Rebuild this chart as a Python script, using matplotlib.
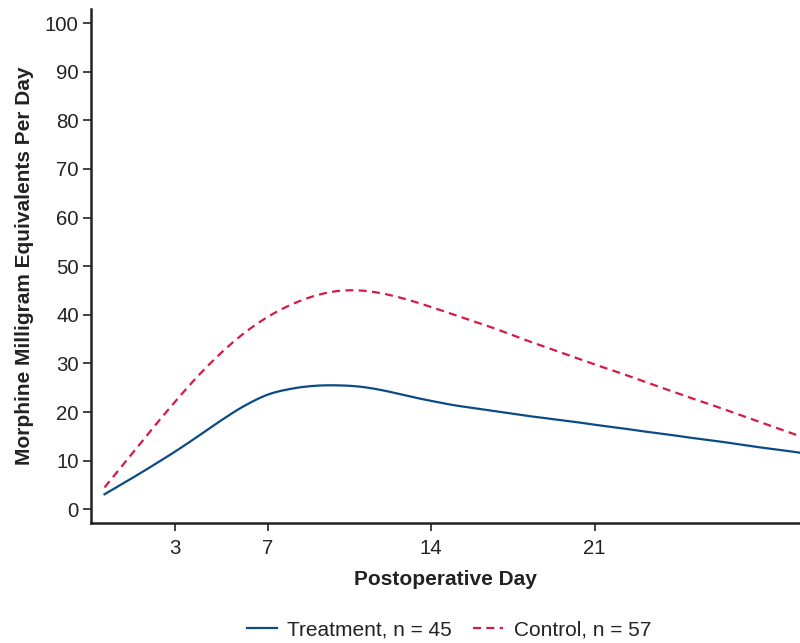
import matplotlib
matplotlib.use("Agg")
import matplotlib.pyplot as plt
import numpy as np

plt.rcParams['font.family'] = ['Liberation Sans', 'DejaVu Sans']

days = list(range(0, 31))
treatment = [3.1, 5.9, 8.8, 11.8, 15.0, 18.3, 21.3, 23.6, 24.8, 25.4,
             25.5, 25.2, 24.4, 23.3, 22.3, 21.4, 20.7, 20.0, 19.3, 18.7,
             18.1, 17.4, 16.8, 16.1, 15.5, 14.8, 14.2, 13.5, 12.8, 12.2, 11.5]
control = [4.5, 10.4, 16.3, 22.0, 27.4, 32.2, 36.3, 39.6, 42.1, 43.9,
           44.9, 45.0, 44.3, 43.1, 41.6, 40.0, 38.4, 36.7, 34.9, 33.2,
           31.5, 29.8, 28.2, 26.5, 24.8, 23.1, 21.5, 19.8, 18.1, 16.4, 14.7]
xticks = [3, 7, 14, 21]
yticks = [0, 10, 20, 30, 40, 50, 60, 70, 80, 90, 100]
labels = ["Treatment, n = 45", "Control, n = 57"]


def smooth(x, y, n=12):
    """Catmull-Rom rendering through the given points (display smoothing only)."""
    x = np.asarray(x, float)
    y = np.asarray(y, float)
    px = np.concatenate([[2 * x[0] - x[1]], x, [2 * x[-1] - x[-2]]])
    py = np.concatenate([[2 * y[0] - y[1]], y, [2 * y[-1] - y[-2]]])
    xs, ys = [], []
    t = np.linspace(0, 1, n, endpoint=False)
    for i in range(1, len(px) - 2):
        for arr, out in ((px, xs), (py, ys)):
            p0, p1, p2, p3 = arr[i - 1], arr[i], arr[i + 1], arr[i + 2]
            out.extend(0.5 * ((2 * p1) + (-p0 + p2) * t
                              + (2 * p0 - 5 * p1 + 4 * p2 - p3) * t ** 2
                              + (-p0 + 3 * p1 - 3 * p2 + p3) * t ** 3))
    xs.append(x[-1])
    ys.append(y[-1])
    return np.array(xs), np.array(ys)


fig = plt.figure(figsize=(8, 6.43), dpi=100)
ax = fig.add_axes([0.114, 0.187, 0.886, 0.799])

tx, ty = smooth(days, treatment)
cx, cy = smooth(days, control)
ax.plot(tx, ty, color="#0b4a84", lw=1.6, label=labels[0])
ax.plot(cx, cy, color="#d51a45", lw=1.6, dashes=(3.6, 2.4), label=labels[1])

ax.set_xlim(-0.57, 29.8)
ax.set_ylim(-2.76, 102.9)
ax.set_xticks(xticks)
ax.set_yticks(yticks)

for s in ["top", "right"]:
    ax.spines[s].set_visible(False)
for s in ["left", "bottom"]:
    ax.spines[s].set_linewidth(1.8)
    ax.spines[s].set_color("#222222")

ax.tick_params(axis="both", which="major", length=6, width=1.2, colors="#222222",
               labelsize=14.7, labelcolor="#222222")
ax.tick_params(axis="y", pad=3)
ax.tick_params(axis="x", pad=6)

ax.set_xlabel("Postoperative Day", fontsize=15, fontweight="bold", color="#222222", labelpad=8)
ax.set_ylabel("Morphine Milligram Equivalents Per Day", fontsize=15, fontweight="bold",
              color="#222222", labelpad=8)

leg = fig.legend(loc="lower center", bbox_to_anchor=(0.561, -0.024), ncol=2, frameon=False,
                 fontsize=15, handlelength=1.45, columnspacing=1.0, handletextpad=0.5)
for t in leg.get_texts():
    t.set_color("#222222")

fig.savefig("out.png", dpi=100)
